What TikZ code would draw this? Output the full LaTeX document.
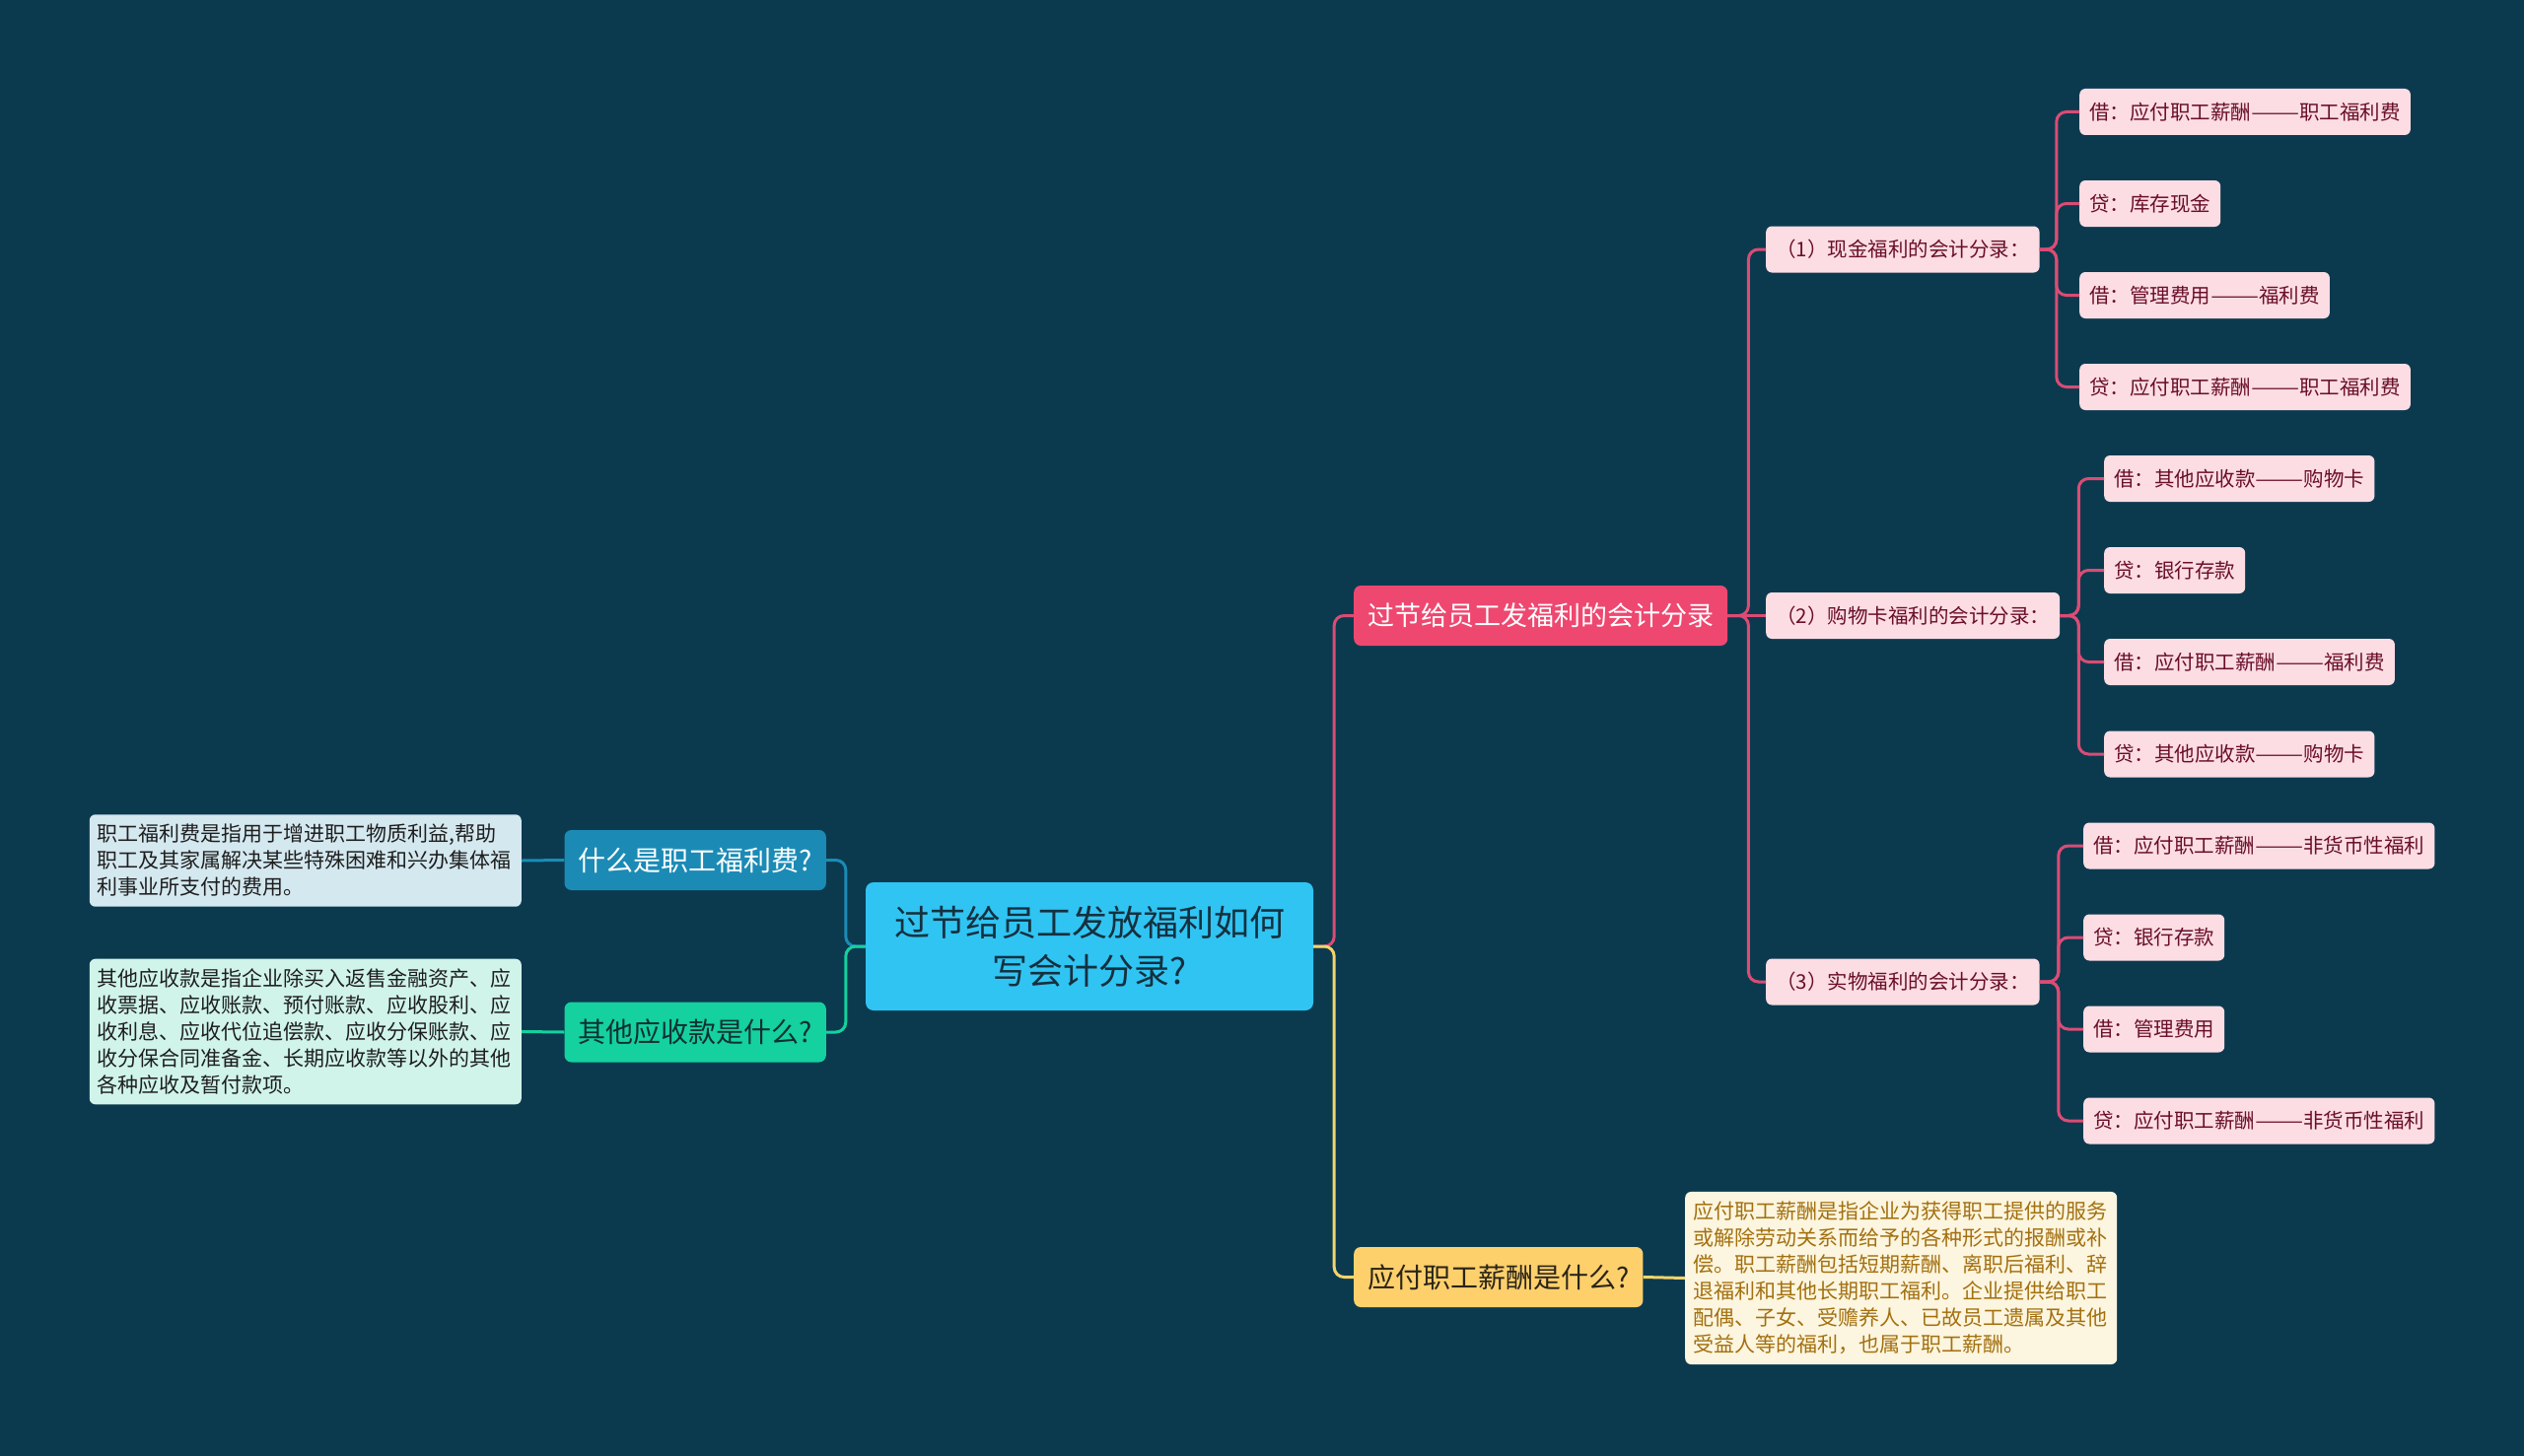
\documentclass[tikz,border=0pt]{standalone}
\usepackage{fontspec}
\setmainfont{Noto Sans CJK SC}

\definecolor{bg}{HTML}{0B3A4F}
\definecolor{rootblue}{HTML}{30C4F2}
\definecolor{rootink}{HTML}{15303F}
\definecolor{qblue}{HTML}{1B8BB6}
\definecolor{qgreen}{HTML}{14D19F}
\definecolor{qgreenink}{HTML}{0E2F33}
\definecolor{feepale}{HTML}{D4E8EF}
\definecolor{otherpale}{HTML}{D0F4EA}
\definecolor{noteink}{HTML}{1E1E1E}
\definecolor{pinkdeep}{HTML}{EE4870}
\definecolor{pinkline}{HTML}{DB4C74}
\definecolor{pinkpale}{HTML}{FCDDE3}
\definecolor{pinkink}{HTML}{6A0E2A}
\definecolor{gold}{HTML}{FDD06C}
\definecolor{goldink}{HTML}{2A2418}
\definecolor{goldline}{HTML}{F2D46A}
\definecolor{cream}{HTML}{FCF5DF}
\definecolor{creamink}{HTML}{A3700F}

\newcommand\longdash{\resizebox{2.4em}{\height}{——}}

\begin{document}
\begin{tikzpicture}[x=1pt,y=-1pt,
    every node/.style={inner sep=0pt},
    main/.style={fill=rootblue,text=rootink,rounded corners=8pt,minimum width=454pt,minimum height=130pt,align=center,font=\fontsize{36}{49}\selectfont},
    topic/.style={rounded corners=7pt,minimum height=61pt,inner xsep=14pt,font=\fontsize{28}{34}\selectfont},
    entry/.style={fill=pinkpale,text=pinkink,rounded corners=6pt,minimum height=47pt,inner xsep=10pt,font=\fontsize{20.5}{25}\selectfont},
    note/.style={rounded corners=6pt,text width=422pt,inner xsep=8pt,inner ysep=10pt,align=left,font=\fontsize{21}{27}\selectfont},
    link/.style={line width=3pt,rounded corners=10pt}]
\fill[bg] (0,0) rectangle (2560,1477);
\useasboundingbox (0,0) rectangle (2560,1477);

\node[main] (root) at (1105,960) {过节给员工发放福利如何\\写会计分录?};

\node[topic,fill=qblue,text=white,anchor=east] (fee) at (838,872.5) {什么是职工福利费?};
\node[topic,fill=qgreen,text=qgreenink,anchor=east] (other) at (838,1047) {其他应收款是什么?};
\node[note,fill=feepale,text=noteink,anchor=east] (feenote) at (529,873) {职工福利费是指用于增进职工物质利益,帮助\\职工及其家属解决某些特殊困难和兴办集体福\\利事业所支付的费用。};
\node[note,fill=otherpale,text=noteink,anchor=east] (othernote) at (529,1046.5) {其他应收款是指企业除买入返售金融资产、应\\收票据、应收账款、预付账款、应收股利、应\\收利息、应收代位追偿款、应收分保账款、应\\收分保合同准备金、长期应收款等以外的其他\\各种应收及暂付款项。};

\node[topic,fill=pinkdeep,text=white,anchor=west,font=\fontsize{27}{34}\selectfont] (entries) at (1373,624.5) {过节给员工发福利的会计分录};
\node[topic,fill=gold,text=goldink,anchor=west] (payable) at (1373,1295.5) {应付职工薪酬是什么?};
\node[note,fill=cream,text=creamink,anchor=west] (payablenote) at (1709,1296.5) {应付职工薪酬是指企业为获得职工提供的服务\\或解除劳动关系而给予的各种形式的报酬或补\\偿。职工薪酬包括短期薪酬、离职后福利、辞\\退福利和其他长期职工福利。企业提供给职工\\配偶、子女、受赡养人、已故员工遗属及其他\\受益人等的福利，也属于职工薪酬。};

\node[entry,anchor=west] (cash) at (1791,253) {（1）现金福利的会计分录：};
\node[entry,anchor=west] (card) at (1791,624.5) {（2）购物卡福利的会计分录：};
\node[entry,anchor=west] (goods) at (1791,996) {（3）实物福利的会计分录：};

\node[entry,anchor=west] (cash1) at (2109,113.5) {借：应付职工薪酬\longdash 职工福利费};
\node[entry,anchor=west] (cash2) at (2109,206.5) {贷：库存现金};
\node[entry,anchor=west] (cash3) at (2109,299.5) {借：管理费用\longdash 福利费};
\node[entry,anchor=west] (cash4) at (2109,392.5) {贷：应付职工薪酬\longdash 职工福利费};
\node[entry,anchor=west] (card1) at (2134,485.5) {借：其他应收款\longdash 购物卡};
\node[entry,anchor=west] (card2) at (2134,578.5) {贷：银行存款};
\node[entry,anchor=west] (card3) at (2134,671.5) {借：应付职工薪酬\longdash 福利费};
\node[entry,anchor=west] (card4) at (2134,765) {贷：其他应收款\longdash 购物卡};
\node[entry,anchor=west] (goods1) at (2113,858) {借：应付职工薪酬\longdash 非货币性福利};
\node[entry,anchor=west] (goods2) at (2113,951) {贷：银行存款};
\node[entry,anchor=west] (goods3) at (2113,1044) {借：管理费用};
\node[entry,anchor=west] (goods4) at (2113,1137) {贷：应付职工薪酬\longdash 非货币性福利};

\draw[link,pinkline] (root.east) -- ++(21,0) |- (entries.west);
\draw[link,goldline] (root.east) -- ++(21,0) |- (payable.west);
\draw[link,qblue] (root.west) -- ++(-20,0) |- (fee.east);
\draw[link,qgreen] (root.west) -- ++(-20,0) |- (other.east);
\draw[link,qblue] (fee.west) -- (feenote.east);
\draw[link,qgreen] (other.west) -- (othernote.east);
\draw[link,goldline] (payable.east) -- (payablenote.west);

\draw[link,pinkline] (entries.east) -- ++(21,0) |- (cash.west);
\draw[link,pinkline] (entries.east) -- (card.west);
\draw[link,pinkline] (entries.east) -- ++(21,0) |- (goods.west);

\draw[link,pinkline] (cash.east) -- ++(17,0) |- (cash1.west);
\draw[link,pinkline] (cash.east) -- ++(17,0) |- (cash2.west);
\draw[link,pinkline] (cash.east) -- ++(17,0) |- (cash3.west);
\draw[link,pinkline] (cash.east) -- ++(17,0) |- (cash4.west);
\draw[link,pinkline] (card.east) -- ++(19,0) |- (card1.west);
\draw[link,pinkline] (card.east) -- ++(19,0) |- (card2.west);
\draw[link,pinkline] (card.east) -- ++(19,0) |- (card3.west);
\draw[link,pinkline] (card.east) -- ++(19,0) |- (card4.west);
\draw[link,pinkline] (goods.east) -- ++(19,0) |- (goods1.west);
\draw[link,pinkline] (goods.east) -- ++(19,0) |- (goods2.west);
\draw[link,pinkline] (goods.east) -- ++(19,0) |- (goods3.west);
\draw[link,pinkline] (goods.east) -- ++(19,0) |- (goods4.west);
\end{tikzpicture}
\end{document}
